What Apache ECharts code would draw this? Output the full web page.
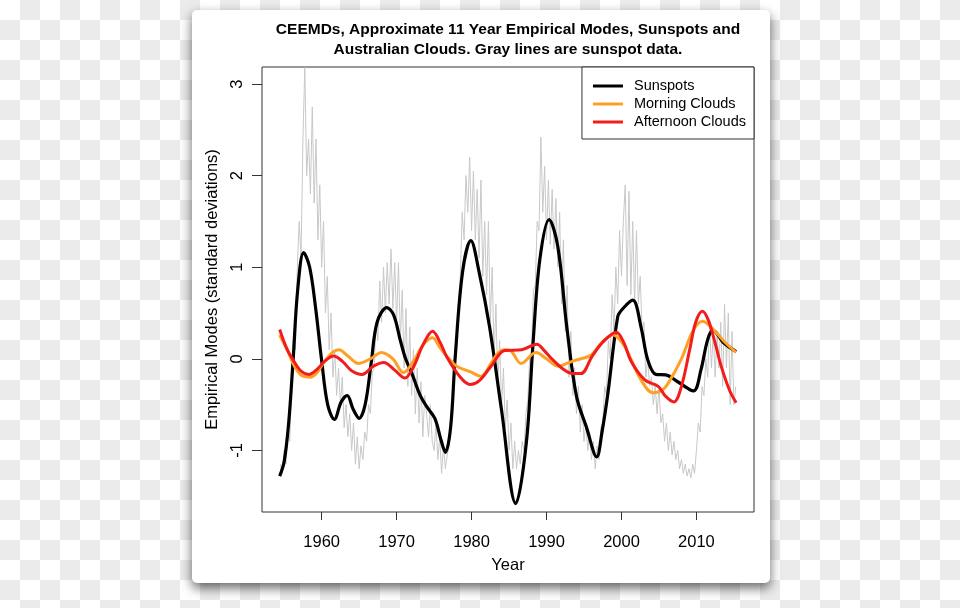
<!DOCTYPE html>
<html>
<head>
<meta charset="utf-8">
<script src="https://cdn.jsdelivr.net/npm/echarts@6/dist/echarts.min.js"></script>
<style>
  html, body { margin: 0; padding: 0; width: 960px; height: 608px; overflow: hidden; }
  body { background: repeating-conic-gradient(#ebebeb 0 25%, #ffffff 0 50%) 0 0 / 40px 40px; position: relative; }
  #card { position: absolute; left: 192px; top: 10px; width: 578px; height: 573px; background: #fff; border-radius: 5px; box-shadow: 0 5px 12px rgba(0,0,0,0.6); }
  #chart { position: absolute; left: 0; top: 0; width: 960px; height: 608px; }
</style>
</head>
<body>
<div id="card"></div>
<div id="chart"></div>
<script>
// ---- data ----
const titleText = 'CEEMDs, Approximate 11 Year Empirical Modes, Sunspots and\nAustralian Clouds. Gray lines are sunspot data.';
const xTicks = [1960, 1970, 1980, 1990, 2000, 2010];
const yTicks = [-1, 0, 1, 2, 3];

const sunspotYears = [1954.4,1955.0,1955.6,1956.2,1956.8,1957.6,1958.4,1959.2,1960.0,1960.8,1961.7,1962.6,1963.4,1964.2,1965.0,1965.8,1966.6,1967.4,1968.7,1969.6,1970.5,1971.2,1972.0,1973.1,1974.0,1975.1,1975.9,1976.5,1977.2,1977.8,1978.8,1979.9,1981.0,1982.4,1984.0,1985.9,1987.3,1988.2,1989.1,1990.35,1991.5,1992.7,1994.0,1995.3,1996.7,1997.4,1998.2,1999.5,2000.2,2001.5,2002.6,2003.5,2004.6,2005.9,2007.5,2009.6,2010.6,2011.5,2012.2,2013.7,2015.3];
const sunspotValues = [-1.28,-1.12,-0.7,0.0,0.75,1.16,1.0,0.55,-0.02,-0.5,-0.66,-0.47,-0.40,-0.55,-0.65,-0.5,-0.05,0.4,0.56,0.48,0.2,0.0,-0.15,-0.39,-0.52,-0.65,-0.88,-1.02,-0.75,0.0,0.95,1.29,0.95,0.35,-0.56,-1.58,-0.92,0.17,1.08,1.52,1.23,0.35,-0.41,-0.74,-1.07,-0.8,-0.37,0.46,0.55,0.64,0.35,-0.01,-0.17,-0.175,-0.25,-0.35,-0.12,0.21,0.31,0.17,0.08];

const morningYears = [1954.4,1955.5,1956.5,1957.5,1958.5,1959.3,1960.2,1961.3,1962.3,1963.5,1964.9,1966.5,1968.0,1969.5,1970.9,1972.3,1973.5,1974.8,1975.8,1977.0,1978.0,1979.8,1981.2,1982.6,1983.5,1984.4,1985.2,1986.6,1988.6,1990.0,1991.5,1993.0,1994.1,1995.9,1997.4,1998.9,2000.3,2001.3,2002.6,2004.2,2005.3,2006.2,2008.0,2009.5,2010.8,2011.9,2013.7,2015.3];
const morningValues = [0.26,0.08,-0.1,-0.19,-0.2,-0.16,-0.05,0.06,0.1,0.03,-0.05,0.0,0.07,0.0,-0.15,-0.02,0.15,0.23,0.12,0.0,-0.08,-0.14,-0.19,-0.05,0.06,0.1,0.09,-0.05,0.07,0.0,-0.08,-0.04,-0.01,0.04,0.18,0.26,0.15,-0.01,-0.23,-0.37,-0.35,-0.27,0.0,0.3,0.41,0.35,0.19,0.07];

const afternoonYears = [1954.4,1955.3,1956.1,1957.2,1958.3,1959.3,1960.5,1961.6,1962.8,1964.0,1965.4,1966.9,1968.3,1969.7,1971.1,1972.3,1973.5,1974.8,1975.8,1976.7,1978.4,1979.8,1981.0,1982.6,1984.4,1986.7,1988.7,1989.7,1990.7,1992.2,1993.5,1994.6,1996.1,1997.6,1999.3,2000.3,2001.3,2003.1,2004.9,2005.9,2007.0,2008.0,2009.1,2009.9,2010.8,2011.6,2012.5,2013.3,2014.4,2015.3];
const afternoonValues = [0.32,0.12,0.0,-0.13,-0.17,-0.12,-0.02,0.03,-0.03,-0.13,-0.17,-0.08,-0.04,-0.12,-0.21,-0.08,0.15,0.3,0.18,0.02,-0.19,-0.28,-0.24,-0.08,0.09,0.1,0.16,0.09,0.0,-0.11,-0.16,-0.16,0.03,0.19,0.29,0.18,-0.03,-0.23,-0.3,-0.41,-0.47,-0.3,0.1,0.4,0.52,0.42,0.17,-0.08,-0.34,-0.48];

// raw sunspot data (gray), quarterly readings starting 1954.5
const grayStart = 1954.5;
const grayStep = 0.25;
const grayValues = [
 -1.15,-1.25,
 -1.0,-1.15,-0.75,-0.9,
 -0.25,0.3,0.1,1.0,
 1.5,1.1,2.4,3.18,
 2.0,2.4,1.8,2.75,
 1.7,2.4,1.3,1.9,
 1.0,1.5,0.5,0.9,
 0.1,0.5,-0.2,0.1,
 -0.4,-0.1,-0.5,-0.2,
 -0.75,-0.5,-0.85,-0.6,
 -1.0,-0.7,-1.15,-0.85,
 -1.2,-0.95,-1.1,-0.8,
 -0.9,-0.5,-0.6,-0.15,
 -0.1,0.4,0.2,0.85,
 0.4,1.0,0.5,1.05,
 0.6,1.2,0.55,1.05,
 0.4,1.05,0.2,0.75,
 -0.1,0.55,-0.3,0.35,
 -0.4,0.1,-0.6,-0.1,
 -0.7,-0.25,-0.85,-0.4,
 -0.6,-0.85,-0.5,-0.9,
 -1.0,-0.7,-1.1,-0.85,
 -1.25,-0.95,-1.2,-1.05,
 -0.95,-0.7,-0.55,-0.1,
 0.1,0.6,0.9,1.6,
 1.3,2.0,1.6,2.2,
 1.4,2.05,1.3,1.85,
 1.1,1.95,0.9,1.5,
 0.7,1.5,0.4,1.0,
 0.0,0.6,-0.3,0.2,
 -0.55,-0.1,-0.75,-0.45,
 -1.0,-0.7,-1.2,-0.9,
 -1.2,-1.0,-1.15,-0.9,
 -1.0,-0.6,-0.45,0.0,
 0.05,0.75,0.8,1.5,
 1.4,2.42,1.6,2.1,
 1.3,1.95,1.25,1.85,
 1.2,1.75,1.0,1.6,
 0.6,1.3,0.3,0.8,
 -0.2,0.3,-0.4,-0.1,
 -0.6,-0.3,-0.8,-0.5,
 -0.9,-0.7,-1.0,-0.8,
 -1.1,-0.9,-1.2,-0.95,
 -1.1,-0.75,-0.7,-0.3,
 -0.4,0.2,0.0,0.7,
 0.3,1.0,0.6,1.4,
 0.9,1.5,1.9,0.8,
 1.83,0.7,1.5,0.6,
 1.4,0.6,0.9,0.3,
 0.4,-0.2,0.0,-0.3,
 -0.2,-0.5,-0.3,-0.6,
 -0.3,-0.7,-0.6,-0.9,
 -0.7,-1.0,-0.8,-1.05,
 -0.9,-1.1,-1.0,-1.2,
 -1.1,-1.25,-1.15,-1.28,
 -1.2,-1.3,-1.15,-1.25,
 -1.0,-0.7,-0.8,-0.3,
 -0.4,0.0,-0.2,0.4,
 -0.1,0.3,-0.2,0.3,
 -0.1,0.4,-0.3,0.6,
 -0.1,0.5,-0.5,0.3,
 -0.5,-0.3
];

const seriesNames = ['Sunspots', 'Morning Clouds', 'Afternoon Clouds'];
const seriesColors = ['#000000', '#FFA024', '#F21C1C'];

// ---- build chart ----
const pair = (xs, ys) => xs.map((x, i) => [x, ys[i]]);
const grayData = grayValues.map((v, i) => [grayStart + i * grayStep, v]);

const font = '"Liberation Sans", Arial, Helvetica, sans-serif';
const chart = echarts.init(document.getElementById('chart'), null, { renderer: 'canvas' });

chart.setOption({
  backgroundColor: 'transparent',
  animation: false,
  title: {
    text: titleText,
    left: 503, top: 15, textAlign: 'center',
    textStyle: { fontFamily: font, fontWeight: 'bold', fontSize: 15.5, lineHeight: 20, color: '#000' }
  },
  grid: {
    left: 262, top: 67, right: 206, bottom: 96,
    show: true, borderColor: '#333', borderWidth: 1, backgroundColor: 'transparent'
  },
  legend: {
    data: seriesNames,
    orient: 'vertical', align: 'left',
    right: 206, top: 67,
    backgroundColor: '#fff', borderColor: '#333', borderWidth: 1,
    padding: [10, 8, 8, 11],
    itemGap: 0, itemWidth: 30, itemHeight: 3, icon: 'rect',
    textStyle: { fontFamily: font, fontSize: 14.5, color: '#000', lineHeight: 18, padding: [0, 0, 0, 6] }
  },
  xAxis: {
    type: 'value', min: 1952.04, max: 2017.68,
    name: 'Year', nameLocation: 'middle', nameGap: 45,
    nameTextStyle: { fontFamily: font, fontSize: 16.5, color: '#000' },
    axisLine: { show: false, onZero: false },
    axisTick: { show: true, length: 8, lineStyle: { color: '#333' }, customValues: xTicks },
    axisLabel: { fontFamily: font, fontSize: 16.5, color: '#000', margin: 22, customValues: xTicks,
                 formatter: v => String(v) },
    splitLine: { show: false }
  },
  yAxis: {
    type: 'value', min: -1.672, max: 3.186,
    name: 'Empirical Modes (standard deviations)', nameLocation: 'middle', nameGap: 40, nameRotate: 90,
    nameTextStyle: { fontFamily: font, fontSize: 16.5, color: '#000' },
    axisLine: { show: false, onZero: false },
    axisTick: { show: true, length: 10, lineStyle: { color: '#333' }, customValues: yTicks },
    axisLabel: { fontFamily: font, fontSize: 16.5, color: '#000', margin: 16, rotate: 90, customValues: yTicks,
                 formatter: v => String(v) },
    splitLine: { show: false }
  },
  series: [
    { name: 'raw', type: 'line', data: grayData, showSymbol: false, silent: true,
      lineStyle: { color: '#c8c8c8', width: 1 }, itemStyle: { color: '#c8c8c8' }, z: 1 },
    { name: seriesNames[0], type: 'line', data: pair(sunspotYears, sunspotValues), smooth: 0.35, showSymbol: false,
      lineStyle: { color: seriesColors[0], width: 3.2 }, itemStyle: { color: seriesColors[0] }, z: 2 },
    { name: seriesNames[1], type: 'line', data: pair(morningYears, morningValues), smooth: 0.35, showSymbol: false,
      lineStyle: { color: seriesColors[1], width: 3 }, itemStyle: { color: seriesColors[1] }, z: 3 },
    { name: seriesNames[2], type: 'line', data: pair(afternoonYears, afternoonValues), smooth: 0.35, showSymbol: false,
      lineStyle: { color: seriesColors[2], width: 3 }, itemStyle: { color: seriesColors[2] }, z: 4 }
  ]
});
</script>
</body>
</html>
